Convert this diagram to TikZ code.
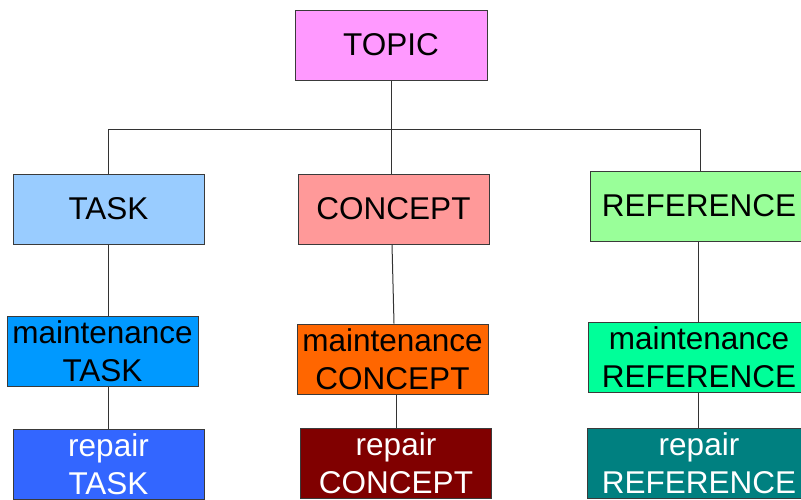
\documentclass[tikz,border=0pt]{standalone}
\usepackage{fontspec}
\setmainfont{Liberation Sans}
\definecolor{cTopic}{HTML}{FF99FF}
\definecolor{cTask}{HTML}{99CCFF}
\definecolor{cConcept}{HTML}{FF9999}
\definecolor{cRef}{HTML}{99FF99}
\definecolor{cMTask}{HTML}{0099FF}
\definecolor{cMConcept}{HTML}{FF6600}
\definecolor{cMRef}{HTML}{00FF99}
\definecolor{cRTask}{HTML}{3366FF}
\definecolor{cRConcept}{HTML}{800000}
\definecolor{cRRef}{HTML}{008080}
\definecolor{edge}{HTML}{3A3A3A}
\tikzset{
  box/.style={draw=edge, line width=1pt, rectangle, inner sep=0pt,
    minimum width=191pt, minimum height=70pt, align=center,
    font=\fontsize{31.5}{38}\selectfont},
  light/.style={box, text=white},
  link/.style={draw=black!80, line width=1pt}
}
\begin{document}
\begin{tikzpicture}[x=1pt,y=-1pt]
  \useasboundingbox (0,0) rectangle (801,499);
  \clip (0,0) rectangle (801,499);
  \fill[white] (0,0) rectangle (801,499);

  % top level
  \node[box, fill=cTopic, minimum width=192pt] (topic) at (391,45) {TOPIC};

  % second level
  \node[box, fill=cTask] (task) at (108.5,209) {TASK};
  \node[box, fill=cConcept] (concept) at (393.5,209) {CONCEPT};
  \node[box, fill=cRef, minimum width=218pt] (ref) at (699,206) {REFERENCE};

  % maintenance level
  \node[box, fill=cMTask] (mtask) at (102.5,351.5) {maintenance\\TASK};
  \node[box, fill=cMConcept] (mconcept) at (392.5,359) {maintenance\\CONCEPT};
  \node[box, fill=cMRef, minimum width=222pt] (mref) at (699,357) {maintenance\\REFERENCE};

  % repair level
  \node[light, fill=cRTask] (rtask) at (108.5,464) {repair\\TASK};
  \node[light, fill=cRConcept] (rconcept) at (396,463) {repair\\CONCEPT};
  \node[light, fill=cRRef, minimum width=224pt] (rref) at (699,463) {repair\\REFERENCE};

  % branching bar under the topic
  \coordinate (bar) at (391,129);
  \draw[link] (topic.south) -- (bar);
  \draw[link] (task.north) |- (bar);
  \draw[link] (bar) -| ([xshift=1pt]ref.north);
  \draw[link] (bar) -- (bar |- concept.north);

  % vertical chains
  \draw[link] (task.south) -- (task.south |- mtask.north);
  \draw[link] (rtask.north |- mtask.south) -- (rtask.north);
  \draw[link] ([xshift=-1.5pt]concept.south) -- ([xshift=1.5pt]mconcept.north);
  \draw[link] (rconcept.north |- mconcept.south) -- (rconcept.north);
  \draw[link] ([xshift=-1pt]ref.south) -- ([xshift=-1pt]ref.south |- mref.north);
  \draw[link] ([xshift=-1pt]mref.south) -- ([xshift=-1pt]mref.south |- rref.north);
\end{tikzpicture}
\end{document}
